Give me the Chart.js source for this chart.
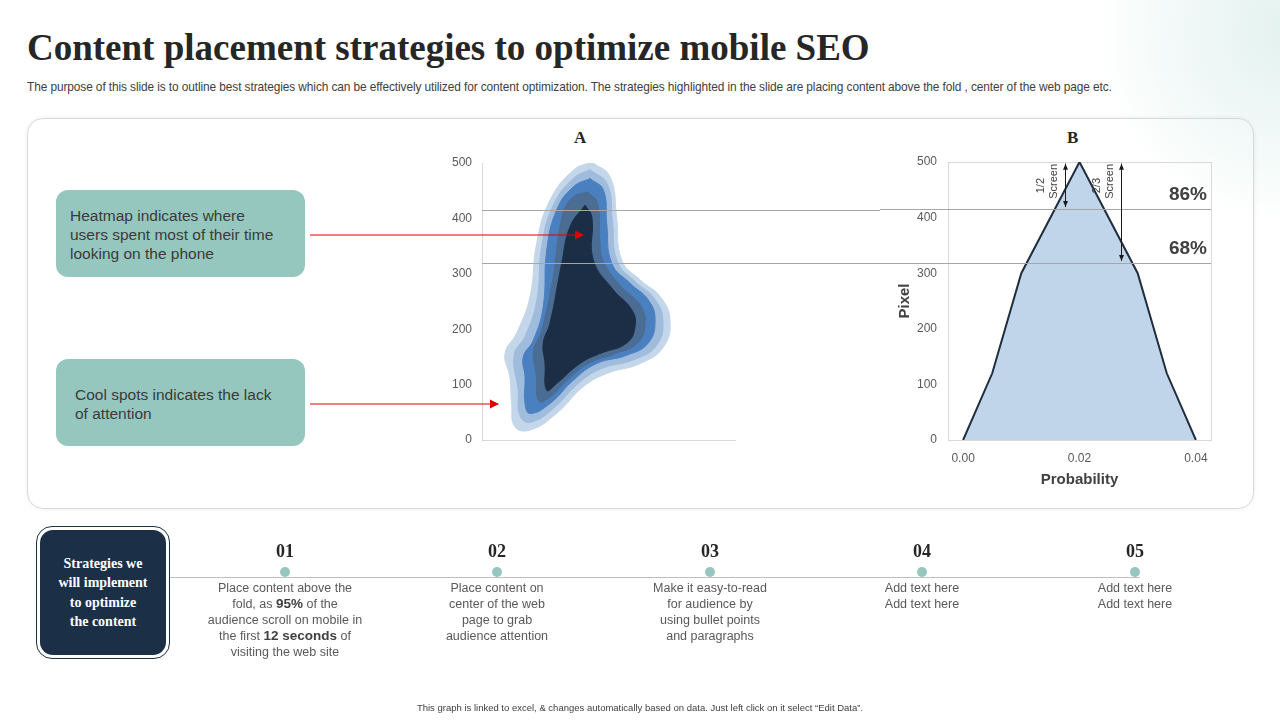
<!DOCTYPE html>
<html>
<head>
<meta charset="utf-8">
<script src="https://cdn.jsdelivr.net/npm/chart.js@4/dist/chart.umd.min.js"></script>
<style>
  body { margin: 0; width: 1280px; height: 720px; position: relative; overflow: hidden; background: #fff; font-family: "Liberation Sans", Arial, sans-serif; }
  .deco { position: absolute; left: 1100px; top: -160px; width: 380px; height: 380px; border-radius: 50%;
          background: radial-gradient(circle, rgba(215,236,232,0.7) 0%, rgba(235,246,244,0.5) 50%, rgba(255,255,255,0) 72%); }
  h1 { position: absolute; left: 27px; top: 26px; margin: 0; font-family: "Liberation Serif", serif; font-weight: bold; font-size: 37px; color: #262626; }
  .sub { position: absolute; left: 27px; top: 80px; font-size: 11.9px; color: #404040; letter-spacing: -0.1px; }
  .card { position: absolute; left: 27px; top: 118px; width: 1225px; height: 389px; border: 1px solid #d9d9d9; border-radius: 16px; box-shadow: 0 0 4px rgba(0,0,0,0.08); }
  .note { position: absolute; left: 56px; width: 249px; height: 87px; background: #96c7bf; border-radius: 12px; color: #3a3a3a; font-size: 15.5px; box-sizing: border-box; line-height: 19px; }
  .ttl { position: absolute; font-family: "Liberation Serif", serif; font-weight: bold; font-size: 17px; color: #262626; }
  canvas { position: absolute; }
  .navy { position: absolute; left: 36px; top: 526px; width: 134px; height: 133px; border: 1.5px solid #1b2f47; border-radius: 16px; box-sizing: border-box; }
  .navy div { position: absolute; left: 3px; top: 3px; right: 3px; bottom: 3px; background: #1b2f47; border-radius: 13px; color: #fff;
              font-family: "Liberation Serif", serif; font-weight: bold; font-size: 14px; line-height: 19.5px; text-align: center; display: flex; align-items: center; justify-content: center; }
  .tl { position: absolute; left: 170px; top: 577px; width: 970px; height: 1px; background: #bfbfbf; }
  .step { position: absolute; width: 200px; margin-left: -100px; text-align: center; }
  .step .n { font-family: "Liberation Serif", serif; font-weight: bold; font-size: 18px; color: #262626; height: 26px; }
  .step .dot { width: 10px; height: 10px; border-radius: 50%; background: #96c7bf; margin: 0 auto 3px auto; }
  .step .t { font-size: 12.5px; color: #595959; line-height: 16px; }
  .step b { color: #404040; font-size: 13.5px; }
  .foot { position: absolute; left: 0; width: 1280px; top: 702px; text-align: center; font-size: 9.5px; color: #404040; }
</style>
</head>
<body>
<div class="deco"></div>
<h1>Content placement strategies to optimize mobile SEO</h1>
<div class="sub">The purpose of this slide is to outline best strategies which can be effectively utilized for content optimization. The strategies highlighted in the slide are placing content above the fold , center of the web page etc.</div>
<div class="card"></div>
<div class="note" style="top:190px;padding:16px 30px 16px 14px;">Heatmap indicates where users spent most of their time looking on the phone</div>
<div class="note" style="top:359px;padding:26px 19px;">Cool spots indicates the lack of attention</div>
<div class="ttl" style="left:574px;top:128px;">A</div>
<div class="ttl" style="left:1067px;top:128px;">B</div>
<canvas id="chartA" width="440" height="300" style="left:440px;top:150px;width:440px;height:300px;"></canvas>
<canvas id="chartB" width="340" height="339" style="left:880px;top:150px;width:340px;height:339px;"></canvas>
<svg width="1280" height="720" style="position:absolute;left:0;top:0;pointer-events:none;">
  <defs><marker id="ah" markerWidth="8" markerHeight="8" refX="7" refY="4" orient="auto"><path d="M0,0 L8,4 L0,8 z" fill="#e00000"/></marker></defs>
  <line x1="310" y1="235" x2="583" y2="235" stroke="#e00000" stroke-width="1.2" marker-end="url(#ah)"/>
  <line x1="310" y1="404" x2="498" y2="404" stroke="#e00000" stroke-width="1.2" marker-end="url(#ah)"/>
</svg>
<div class="navy"><div>Strategies we<br>will implement<br>to optimize<br>the content</div></div>
<div class="tl"></div>
<div id="steps"></div>
<div class="foot">This graph is linked to excel, &amp; changes automatically based on data. Just left click on it select “Edit Data”.</div>
<script>
// chart A: heatmap contour rings, outer to inner (x in 0-100, y in pixel 0-500)
const ringOuter = [[43.4,502],[50.6,475],[53.2,403],[55.2,325],[62.5,289],[70.4,259],[74.3,217],[71.7,168],[62.5,138],[49.3,120],[40,96],[29.5,48],[19,18],[13,24],[11.7,66],[11,114],[9.1,156],[13.7,193],[19,259],[21.6,355],[26.9,433],[36.1,487]];
const ring2 = [[42.7,488],[49.5,462],[51.5,398],[53.5,322],[60.5,286],[68,256],[71.5,217],[69,171],[60,145],[47.3,129],[38,102],[28.2,57],[19,32],[15,44],[14.3,90],[12.7,153],[17,187],[21.6,250],[23.6,349],[28.2,424],[36.1,472]];
const ring3 = [[42.7,472],[48,451],[49.3,391],[51.3,319],[58.5,283],[65.7,253],[68.4,217],[65.7,175],[57.2,153],[45.3,138],[36.1,108],[26.9,66],[19,48],[17,66],[17,114],[16.3,150],[20.3,180],[24.2,241],[25.6,343],[29.5,415],[36.1,457]];
const ring4 = [[41.7,448],[45.7,427],[46.6,358],[48,322],[55,277],[62.5,244],[64.5,211],[61.5,175],[52,155],[42,138],[33,105],[27,78],[22.5,70],[21.5,114],[20.5,162],[23.5,196],[28,291],[31.5,400],[35.5,437]];
const ringCore = [[40.7,424],[43.4,403],[44,325],[51.9,271],[59.2,235],[60.5,205],[57.2,175],[46.6,156],[38.7,138],[29.5,102],[25.6,90],[24.9,138],[24.2,175],[26.9,211],[31.5,319],[34.8,385]];
const ringColors = ['#c4d6ea', '#9fbcdc', '#4a80c0', '#4b6c93', '#1b2e46'];

// chart B: probability distribution
const probX = [0, 0.005, 0.01, 0.02, 0.03, 0.035, 0.04];
const pixelY = [0, 120, 300, 500, 300, 120, 0];
const yTicks = [0, 100, 200, 300, 400, 500];
const xTicks = [0, 0.02, 0.04];
const foldLines = [416, 319];
const foldPct = ['86%', '68%'];
const screenArrows = [{x: 0.0175, to: 416, label: ['1/2', 'Screen']}, {x: 0.0272, to: 319, label: ['2/3', 'Screen']}];

const steps = [
  {n: '01', x: 285, t: 'Place content above the<br>fold, as <b>95%</b> of the<br>audience scroll on mobile in<br>the first <b>12 seconds</b> of<br>visiting the web site'},
  {n: '02', x: 497, t: 'Place content on<br>center of the web<br>page to grab<br>audience attention'},
  {n: '03', x: 710, t: 'Make it easy-to-read<br>for audience by<br>using bullet points<br>and paragraphs'},
  {n: '04', x: 922, t: 'Add text here<br>Add text here'},
  {n: '05', x: 1135, t: 'Add text here<br>Add text here'}
];
const stepsEl = document.getElementById('steps');
steps.forEach(function (s) {
  const d = document.createElement('div');
  d.className = 'step';
  d.style.left = s.x + 'px';
  d.style.top = '541px';
  d.innerHTML = '<div class="n">' + s.n + '</div><div class="dot"></div><div class="t">' + s.t + '</div>';
  stepsEl.appendChild(d);
});

Chart.defaults.animation = false;
Chart.defaults.font.family = 'Liberation Sans, Arial, sans-serif';

const rings = [ringOuter, ring2, ring3, ring4, ringCore];

const foldLinesA = {
  id: 'foldA',
  afterDatasetsDraw: (chart) => {
    const c = chart.ctx, y = chart.scales.y, a = chart.chartArea;
    c.save();
    c.strokeStyle = '#a6a6a6';
    c.lineWidth = 1;
    foldLines.forEach(v => {
      const py = Math.round(y.getPixelForValue(v)) + 0.5;
      c.beginPath(); c.moveTo(a.left, py); c.lineTo(chart.width, py); c.stroke();
    });
    c.restore();
  }
};

new Chart(document.getElementById('chartA'), {
  type: 'scatter',
  data: {
    datasets: rings.map((r, i) => ({
      data: r.map(p => ({x: p[0], y: p[1]})).concat([{x: r[0][0], y: r[0][1]}]),
      order: rings.length - i,
      showLine: true,
      fill: 'shape',
      backgroundColor: ringColors[i],
      borderColor: ringColors[i],
      borderWidth: 1,
      pointRadius: 0,
      tension: 0.45
    }))
  },
  options: {
    responsive: false,
    layout: {padding: {top: 13, right: 145, bottom: 0}},
    plugins: {legend: {display: false}, tooltip: {enabled: false}},
    scales: {
      x: {min: 0, max: 100, ticks: {display: false}, grid: {display: false}, border: {color: '#d9d9d9'},
          afterFit: s => { s.height = 10; }},
      y: {min: 0, max: 500, ticks: {stepSize: 100, color: '#595959', font: {size: 12}, padding: 2},
          grid: {display: false}, border: {color: '#d9d9d9'},
          afterFit: s => { s.width = 42; }}
    }
  },
  plugins: [foldLinesA]
});

const decorB = {
  id: 'decorB',
  beforeDatasetsDraw: (chart) => {
    const c = chart.ctx, a = chart.chartArea;
    c.save();
    c.strokeStyle = '#d9d9d9';
    c.strokeRect(a.left + 0.5, a.top + 0.5, a.right - a.left, a.bottom - a.top);
    c.restore();
  },
  afterDatasetsDraw: (chart) => {
    const c = chart.ctx, x = chart.scales.x, y = chart.scales.y, a = chart.chartArea;
    c.save();
    c.strokeStyle = '#a6a6a6';
    c.lineWidth = 1;
    foldLines.forEach((v, i) => {
      const py = Math.round(y.getPixelForValue(v)) + 0.5;
      c.beginPath(); c.moveTo(0, py); c.lineTo(a.right, py); c.stroke();
      c.fillStyle = '#404040';
      c.font = 'bold 19px Liberation Sans, Arial';
      c.textAlign = 'right';
      c.fillText(foldPct[i], a.right - 4, py - 10);
    });
    screenArrows.forEach(s => {
      const px = Math.round(x.getPixelForValue(s.x)) + 0.5;
      const y0 = y.getPixelForValue(497), y1 = y.getPixelForValue(s.to + 3);
      c.strokeStyle = '#1a1a1a';
      c.fillStyle = '#1a1a1a';
      c.beginPath(); c.moveTo(px, y0); c.lineTo(px, y1); c.stroke();
      [[y0, 1], [y1, -1]].forEach(([yy, d]) => {
        c.beginPath(); c.moveTo(px, yy); c.lineTo(px - 2.5, yy + 6 * d); c.lineTo(px + 2.5, yy + 6 * d); c.closePath(); c.fill();
      });
      c.save();
      c.translate(px - 10, a.top + 2);
      c.rotate(-Math.PI / 2);
      c.font = '11px Liberation Sans, Arial';
      c.fillStyle = '#404040';
      c.textAlign = 'right';
      c.fillText(s.label[0], -14, -12);
      c.fillText(s.label[1], 0, 1);
      c.restore();
    });
    c.restore();
  }
};

new Chart(document.getElementById('chartB'), {
  type: 'scatter',
  data: {
    datasets: [{
      data: probX.map((v, i) => ({x: v, y: pixelY[i]})),
      showLine: true,
      fill: 'origin',
      backgroundColor: '#c0d5ea',
      borderColor: '#1f2d3d',
      borderWidth: 2,
      pointRadius: 0
    }]
  },
  options: {
    responsive: false,
    layout: {padding: {top: 12, right: 9, bottom: 0, left: 12}},
    plugins: {legend: {display: false}, tooltip: {enabled: false}},
    scales: {
      x: {min: -0.0026, max: 0.0426,
          afterBuildTicks: s => { s.ticks = xTicks.map(v => ({value: v})); },
          ticks: {callback: v => v.toFixed(2), color: '#595959', font: {size: 12}, padding: 3},
          grid: {display: false}, border: {display: false},
          title: {display: true, text: 'Probability', color: '#404040', font: {size: 15, weight: 'bold'}, padding: {top: 0, bottom: 0}},
          afterFit: s => { s.height = 49; }},
      y: {min: 0, max: 500,
          afterBuildTicks: s => { s.ticks = yTicks.map(v => ({value: v})); },
          ticks: {color: '#595959', font: {size: 12}, padding: 3},
          grid: {display: false}, border: {display: false},
          title: {display: true, text: 'Pixel', color: '#404040', font: {size: 15, weight: 'bold'}, padding: {bottom: 2}},
          afterFit: s => { s.width = 56; }}
    }
  },
  plugins: [decorB]
});
</script>
</body>
</html>
